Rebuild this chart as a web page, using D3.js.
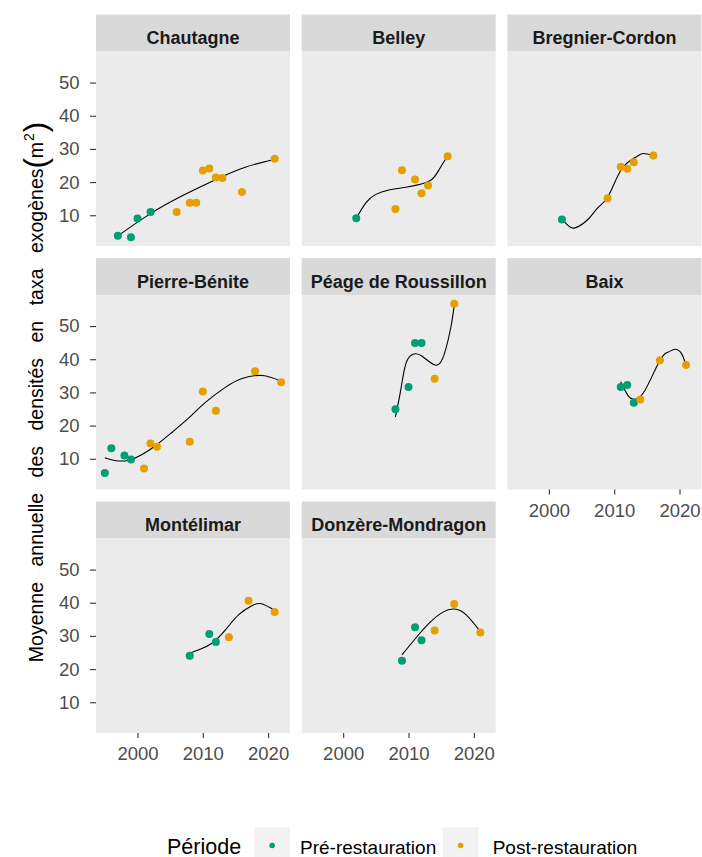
<!DOCTYPE html>
<html>
<head>
<meta charset="utf-8">
<script src="https://cdn.jsdelivr.net/npm/d3@7/dist/d3.min.js"></script>
<style>
  html, body { margin: 0; padding: 0; background: #ffffff; }
  svg { display: block; font-family: "Liberation Sans", Arial, sans-serif; }
</style>
</head>
<body>
<svg id="chart" width="702" height="857"></svg>
<script>
// ---------------- DATA ----------------
const sites = ["Chautagne", "Belley", "Bregnier-Cordon", "Pierre-Bénite",
  "Péage de Roussillon", "Baix", "Montélimar", "Donzère-Mondragon"];
const periods = ["Pré-restauration", "Post-restauration"];
const periodColors = ["#009E73", "#E69F00"];
const xTicks = [2000, 2010, 2020];
const yTicks = [10, 20, 30, 40, 50];

// observed points (parallel arrays)
const pointSite = [
  "Chautagne","Chautagne","Chautagne","Chautagne","Chautagne","Chautagne","Chautagne","Chautagne","Chautagne","Chautagne","Chautagne","Chautagne","Chautagne",
  "Belley","Belley","Belley","Belley","Belley","Belley","Belley",
  "Bregnier-Cordon","Bregnier-Cordon","Bregnier-Cordon","Bregnier-Cordon","Bregnier-Cordon","Bregnier-Cordon",
  "Pierre-Bénite","Pierre-Bénite","Pierre-Bénite","Pierre-Bénite","Pierre-Bénite","Pierre-Bénite","Pierre-Bénite","Pierre-Bénite","Pierre-Bénite","Pierre-Bénite","Pierre-Bénite","Pierre-Bénite",
  "Péage de Roussillon","Péage de Roussillon","Péage de Roussillon","Péage de Roussillon","Péage de Roussillon","Péage de Roussillon",
  "Baix","Baix","Baix","Baix","Baix","Baix",
  "Montélimar","Montélimar","Montélimar","Montélimar","Montélimar","Montélimar",
  "Donzère-Mondragon","Donzère-Mondragon","Donzère-Mondragon","Donzère-Mondragon","Donzère-Mondragon","Donzère-Mondragon"
];
const pointYear = [
  1997, 1999, 2000, 2002, 2006, 2008, 2009, 2010, 2011, 2012, 2013, 2016, 2021,
  2002, 2008, 2009, 2011, 2012, 2013, 2016,
  2002, 2009, 2011, 2012, 2013, 2016,
  1995, 1996, 1998, 1999, 2001, 2002, 2003, 2008, 2010, 2012, 2018, 2022,
  2008, 2010, 2011, 2012, 2014, 2017,
  2011, 2012, 2013, 2014, 2017, 2021,
  2008, 2011, 2012, 2014, 2017, 2021,
  2009, 2011, 2012, 2014, 2017, 2021
];
const pointValue = [
  3.8, 3.4, 9.0, 11.0, 11.0, 13.8, 13.8, 23.5, 24.1, 21.4, 21.2, 17.0, 27.0,
  9.1, 11.9, 23.6, 20.8, 16.6, 19.0, 27.8,
  8.7, 15.1, 24.6, 24.0, 26.0, 28.0,
  5.7, 13.2, 11.0, 9.8, 7.1, 14.6, 13.6, 15.1, 30.3, 24.5, 36.4, 33.1,
  24.9, 31.6, 44.9, 44.9, 34.1, 56.7,
  31.6, 32.2, 26.9, 27.9, 39.7, 38.3,
  24.0, 30.6, 28.2, 29.6, 40.6, 37.2,
  22.5, 32.6, 28.7, 31.6, 39.6, 31.0
];
const pointPeriod = [
  0,0,0,0,1,1,1,1,1,1,1,1,1,
  0,1,1,1,1,1,1,
  0,1,1,1,1,1,
  0,0,0,0,1,1,1,1,1,1,1,1,
  0,0,0,0,1,1,
  0,0,0,1,1,1,
  0,0,0,1,1,1,
  0,0,0,1,1,1
];

// fitted smooth curves (parallel arrays)
const curveSite = [
  "Chautagne","Chautagne","Chautagne","Chautagne","Chautagne","Chautagne",
  "Belley","Belley","Belley","Belley","Belley","Belley","Belley","Belley",
  "Bregnier-Cordon","Bregnier-Cordon","Bregnier-Cordon","Bregnier-Cordon","Bregnier-Cordon","Bregnier-Cordon","Bregnier-Cordon","Bregnier-Cordon","Bregnier-Cordon","Bregnier-Cordon",
  "Pierre-Bénite","Pierre-Bénite","Pierre-Bénite","Pierre-Bénite","Pierre-Bénite","Pierre-Bénite","Pierre-Bénite","Pierre-Bénite","Pierre-Bénite","Pierre-Bénite","Pierre-Bénite","Pierre-Bénite",
  "Péage de Roussillon","Péage de Roussillon","Péage de Roussillon","Péage de Roussillon","Péage de Roussillon","Péage de Roussillon","Péage de Roussillon","Péage de Roussillon","Péage de Roussillon",
  "Baix","Baix","Baix","Baix","Baix","Baix","Baix","Baix","Baix",
  "Montélimar","Montélimar","Montélimar","Montélimar","Montélimar","Montélimar","Montélimar","Montélimar",
  "Donzère-Mondragon","Donzère-Mondragon","Donzère-Mondragon","Donzère-Mondragon","Donzère-Mondragon","Donzère-Mondragon","Donzère-Mondragon"
];
const curveYear = [
  1997, 2002, 2007, 2012, 2016.5, 2021,
  2002, 2003.5, 2005, 2007, 2010, 2013.2, 2014.7, 2016,
  2002, 2003, 2004, 2006, 2007.5, 2009.1, 2011.1, 2013.2, 2014.4, 2016,
  1995, 1996.5, 1998.5, 2000.7, 2002.8, 2005.3, 2007.9, 2010.4, 2013.5, 2016, 2019.1, 2022,
  2008, 2008.8, 2009.6, 2010.7, 2012.1, 2014.2, 2015.5, 2016.5, 2017,
  2011, 2012.1, 2013.1, 2014.7, 2017, 2018.3, 2019.3, 2020.3, 2021,
  2008, 2009.4, 2011.4, 2013.5, 2015.5, 2017.5, 2019, 2021,
  2009, 2011.1, 2013.2, 2015.2, 2017, 2018.8, 2021
];
const curveValue = [
  3.8, 10.5, 16.0, 20.8, 24.5, 26.8,
  9.1, 13.8, 16.3, 17.6, 18.6, 20.3, 23.8, 27.9,
  8.7, 6.8, 6.2, 8.8, 12.3, 15.8, 23.8, 27.4, 28.6, 27.9,
  10.3, 9.5, 9.5, 11.3, 14.0, 18.0, 22.4, 27.0, 31.6, 34.2, 35.1, 33.4,
  22.6, 30.6, 38.7, 41.5, 40.9, 38.2, 41.7, 49.8, 56.3,
  33.2, 29.1, 27.9, 30.6, 39.7, 42.2, 43.0, 41.7, 38.2,
  24.8, 25.8, 27.8, 31.9, 36.4, 39.1, 39.7, 37.7,
  24.3, 29.3, 33.9, 37.1, 38.1, 36.4, 31.3
];

// ---------------- LAYOUT ----------------
const svg = d3.select("#chart");
const colLeft = [96, 301.7, 507.4];
const panelW = 194;
const panelTop = [51.5, 295, 538.5];
const panelH = 194.5;
const stripH = 37;
const nCols = 3;

const points = pointSite.map((s, i) => ({ site: s, year: pointYear[i], value: pointValue[i], period: pointPeriod[i] }));
const curves = curveSite.map((s, i) => ({ site: s, year: curveYear[i], value: curveValue[i] }));

function expand(ext, m) { const d = (ext[1] - ext[0]) * m; return [ext[0] - d, ext[1] + d]; }
const x = d3.scaleLinear().domain(expand(d3.extent(pointYear), 0.05)).range([0, panelW]);
const y = d3.scaleLinear().domain(expand(d3.extent(pointValue), 0.05)).range([panelH, 0]);

const line = d3.line().x(d => x(d.year)).y(d => y(d.value)).curve(d3.curveNatural);

const tickColor = "#333333";
const tickLabelColor = "#4D4D4D";

sites.forEach((site, i) => {
  const row = Math.floor(i / nCols), col = i % nCols;
  const left = colLeft[col], top = panelTop[row];
  const g = svg.append("g").attr("transform", `translate(${left},${top})`);

  // strip
  g.append("rect").attr("x", 0).attr("y", -stripH).attr("width", panelW).attr("height", stripH).attr("fill", "#D9D9D9");
  g.append("text").attr("x", panelW / 2).attr("y", -stripH + 29.5)
    .attr("text-anchor", "middle").attr("font-size", 18).attr("font-weight", "bold")
    .attr("fill", "#1A1A1A").text(site);

  // panel background
  g.append("rect").attr("width", panelW).attr("height", panelH).attr("fill", "#EBEBEB");

  // smooth
  const cdata = curves.filter(d => d.site === site);
  g.append("path").datum(cdata).attr("d", line).attr("fill", "none")
    .attr("stroke", "#000000").attr("stroke-width", 1.1);

  // points
  g.selectAll("circle.pt").data(points.filter(d => d.site === site)).join("circle")
    .attr("class", "pt")
    .attr("cx", d => x(d.year)).attr("cy", d => y(d.value)).attr("r", 4)
    .attr("fill", d => periodColors[d.period]);

  // y axis on first column
  if (col === 0) {
    const ay = g.append("g").call(d3.axisLeft(y).tickValues(yTicks).tickSize(6).tickPadding(10.5).tickFormat(d3.format("d")));
    ay.select(".domain").remove();
    ay.selectAll("line").attr("stroke", tickColor).attr("stroke-width", 1.1);
    ay.selectAll("text").attr("font-size", 18.5).attr("fill", tickLabelColor)
      .attr("font-family", "Liberation Sans, Arial, sans-serif");
  }
  // x axis on bottom panel of each column
  const isBottom = (i + nCols >= sites.length);
  if (isBottom) {
    const ax = g.append("g").attr("transform", `translate(0,${panelH})`)
      .call(d3.axisBottom(x).tickValues(xTicks).tickSize(5).tickPadding(9).tickFormat(d3.format("d")));
    ax.select(".domain").remove();
    ax.selectAll("line").attr("stroke", tickColor).attr("stroke-width", 1.1);
    ax.selectAll("text").attr("font-size", 18.5).attr("fill", tickLabelColor)
      .attr("font-family", "Liberation Sans, Arial, sans-serif");
  }
});

// y axis title
const yt = svg.append("text")
  .attr("transform", "translate(43,392) rotate(-90)")
  .attr("text-anchor", "middle").attr("font-size", 19.5).attr("fill", "#000000")
  .attr("word-spacing", 10);
yt.append("tspan").text("Moyenne annuelle des densités en taxa exogènes");
yt.append("tspan").attr("font-size", 31).attr("dy", 2.5).text("(");
yt.append("tspan").attr("dy", -2.5).text("m");
yt.append("tspan").attr("font-size", 14).attr("dy", -9).attr("dx", 1).text("2");
yt.append("tspan").attr("font-size", 31).attr("dy", 11.5).attr("dx", 1).text(")");

// legend
const legY = 854;
svg.append("text").attr("x", 167).attr("y", legY).attr("font-size", 21.5).attr("fill", "#000").text("Période");
const keyX = [254.3, 442.7], textX = [300, 492.7];
periods.forEach((p, i) => {
  svg.append("rect").attr("x", keyX[i]).attr("y", 827.3).attr("width", 35.7).attr("height", 35.7).attr("fill", "#F2F2F2");
  svg.append("circle").attr("cx", keyX[i] + 35.7 / 2).attr("cy", 845.5).attr("r", 2.8).attr("fill", periodColors[i]);
  svg.append("text").attr("x", textX[i]).attr("y", legY).attr("font-size", 19).attr("fill", "#000").text(p);
});
</script>
</body>
</html>
